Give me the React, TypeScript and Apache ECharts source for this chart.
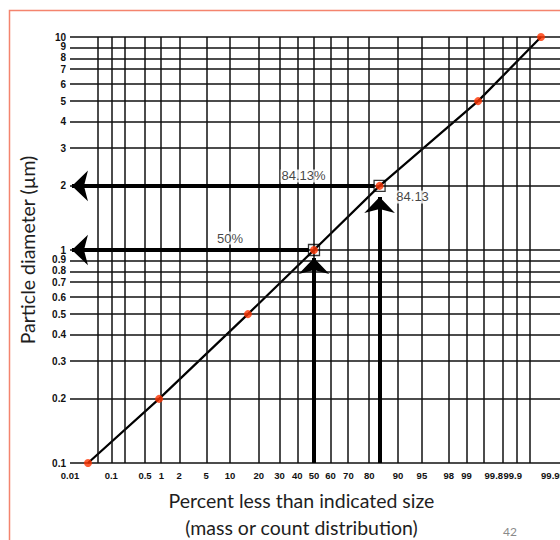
import { useEffect, useRef } from 'react';
import * as echarts from 'echarts';

// ---- data ----
const percentTickLabels = [0.01, 0.1, 0.5, 1, 2, 5, 10, 20, 30, 40, 50, 60, 70, 80, 90, 95, 98, 99, 99.8, 99.9, 99.99];
const percentGridLines = [0.01, 0.05, 0.1, 0.2, 0.5, 1, 2, 5, 10, 20, 30, 40, 50, 60, 70, 80, 90, 95, 98, 99, 99.5, 99.8, 99.9, 99.95];
const diameterTicks = [0.1, 0.2, 0.3, 0.4, 0.5, 0.6, 0.7, 0.8, 0.9, 1, 2, 3, 4, 5, 6, 7, 8, 9, 10];
const pointPercent = [0.0286, 0.91, 15.7, 50, 84.13, 99.38, 99.973];
const pointDiameter = [0.1, 0.2, 0.5, 1, 2, 5, 10];
const markedPercent = [50, 84.13];
const markedDiameter = [1, 2];
const annotationText = ['50%', '84.13%', '84.13'];
const annotationPercent = [50, 84.13, 84.13];
const annotationDiameter = [1, 2, 2];

// inverse standard normal CDF (Acklam)
function qnorm(p: number): number {
  const a = [-3.969683028665376e1, 2.209460984245205e2, -2.759285104469687e2, 1.38357751867269e2, -3.066479806614716e1, 2.506628277459239];
  const b = [-5.447609879822406e1, 1.615858368580409e2, -1.556989798598866e2, 6.680131188771972e1, -1.328068155288572e1];
  const c = [-7.784894002430293e-3, -3.223964580411365e-1, -2.400758277161838, -2.549671348433361, 4.374664141464968, 2.938163982698783];
  const d = [7.784695709041462e-3, 3.224671290700398e-1, 2.445134137142996, 3.754408661907416];
  const pl = 0.02425;
  if (p < pl) {
    const q = Math.sqrt(-2 * Math.log(p));
    return (((((c[0] * q + c[1]) * q + c[2]) * q + c[3]) * q + c[4]) * q + c[5]) / ((((d[0] * q + d[1]) * q + d[2]) * q + d[3]) * q + 1);
  }
  if (p > 1 - pl) {
    const q = Math.sqrt(-2 * Math.log(1 - p));
    return -(((((c[0] * q + c[1]) * q + c[2]) * q + c[3]) * q + c[4]) * q + c[5]) / ((((d[0] * q + d[1]) * q + d[2]) * q + d[3]) * q + 1);
  }
  const q = p - 0.5;
  const r = q * q;
  return ((((((a[0] * r + a[1]) * r + a[2]) * r + a[3]) * r + a[4]) * r + a[5]) * q) / (((((b[0] * r + b[1]) * r + b[2]) * r + b[3]) * r + b[4]) * r + 1);
}
const zp = (pct: number) => qnorm(pct / 100);
const lg = (v: number) => Math.log10(v);

function nearestIndex(list: number[], v: number) {
  let best = 0;
  let bd = Infinity;
  list.forEach((x, i) => {
    const dd = Math.abs(x - v);
    if (dd < bd) { bd = dd; best = i; }
  });
  return best;
}

export default function App() {
  const ref = useRef<HTMLDivElement>(null);
  useEffect(() => {
    if (!ref.current) return;
    const chart = echarts.init(ref.current, undefined, { renderer: 'svg' });
    const xTickZ = percentTickLabels.map(zp);
    const yTickL = diameterTicks.map(lg);
    const topIdx = diameterTicks.length - 1;
    const yMainL = yTickL.slice(0, topIdx);
    const yTopL = yTickL.slice(topIdx);
    const xMin = zp(0.01);
    const xMax = 3.826;
    const labelFont = 'Liberation Sans, Arial, sans-serif';
    const richBase = { fontSize: 9.5, fontFamily: labelFont, fontWeight: 'bold' as const, color: '#111' };

    const gridLineData: any[] = [
      ...percentGridLines.map((p) => ({ xAxis: zp(p) })),
      ...diameterTicks.map((d) => ({ yAxis: lg(d) })),
    ];

    const head = { symbolSize: [23, 16] };
    const arrowData: any[] = [
      [{ coord: [zp(50) - 0.08, lg(1)] }, { coord: [-3.689, lg(1)], ...head }],
      [{ coord: [zp(84.13) - 0.08, lg(2)] }, { coord: [-3.689, lg(2)], ...head }],
      [{ coord: [zp(50), lg(0.1)] }, { coord: [zp(50), -0.0376], ...head }],
      [{ coord: [zp(84.13), lg(0.1)] }, { coord: [zp(84.13), 0.2494], ...head }],
    ];
    const annOffsets = [[-84, -12], [-76, -10], [33, 11]];

    const yLabelBase = {
      margin: 4,
      fontSize: 10,
      fontWeight: 'bold',
      fontFamily: labelFont,
      color: '#111',
      hideOverlap: false,
      showMinLabel: true,
      showMaxLabel: true,
      formatter: (v: number) => String(diameterTicks[nearestIndex(yTickL, v)]),
    };

    chart.setOption({
      animation: false,
      backgroundColor: '#fff',
      grid: { left: 70, top: 37, right: 35, bottom: 77, outerBoundsMode: 'none', containLabel: false },
      xAxis: {
        type: 'value',
        min: xMin,
        max: xMax,
        axisLine: { show: false },
        axisTick: { show: false },
        splitLine: { show: false },
        axisLabel: {
          customValues: xTickZ,
          margin: 7,
          fontSize: 9.5,
          fontWeight: 'bold',
          fontFamily: labelFont,
          color: '#111',
          hideOverlap: false,
          showMinLabel: true,
          showMaxLabel: true,
          formatter: (v: number) => {
            const i = nearestIndex(xTickZ, v);
            const t = String(percentTickLabels[i]);
            if (t === '99.8') return '{s8|' + t + '}';
            if (t === '99.9') return '{s9|' + t + '}';
            if (t === '99.99') return '{s99|' + t + '}';
            return t;
          },
          rich: {
            s8: { ...richBase, padding: [0, 18, 0, 0] },
            s9: { ...richBase, padding: [0, 8, 0, 0] },
            s99: { ...richBase, padding: [0, 10, 0, 0] },
          },
        },
        name: 'Percent less than indicated size\n(mass or count distribution)',
        nameLocation: 'middle',
        nameGap: 24,
        nameTextStyle: { fontSize: 19.5, lineHeight: 27, fontFamily: 'Lato, sans-serif', color: '#1e1e1e', padding: [0, 32, 0, 0] },
      },
      yAxis: [
        {
          type: 'value',
          min: -1,
          max: 1,
          position: 'left',
          axisLine: { show: false },
          axisTick: { show: false },
          splitLine: { show: false },
          axisLabel: { ...yLabelBase, customValues: yMainL },
          name: 'Particle diameter (µm)',
          nameLocation: 'middle',
          nameGap: 33,
          nameTextStyle: { fontSize: 19.5, fontFamily: 'Lato, sans-serif', color: '#1e1e1e' },
        },
        {
          type: 'value',
          min: -1,
          max: 1,
          position: 'left',
          offset: 0,
          axisLine: { show: false },
          axisTick: { show: false },
          splitLine: { show: false },
          axisLabel: { ...yLabelBase, customValues: yTopL },
        },
      ],
      series: [
        {
          name: 'grid',
          type: 'line',
          data: [],
          silent: true,
          z: 1,
          markLine: {
            silent: true,
            symbol: 'none',
            animation: false,
            label: { show: false },
            lineStyle: { color: '#111', width: 1.5, type: 'solid' },
            emphasis: { disabled: true },
            data: gridLineData,
          },
        },
        {
          name: 'fit',
          type: 'line',
          data: pointPercent.map((p, i) => [zp(p), lg(pointDiameter[i])]),
          showSymbol: false,
          symbol: 'none',
          silent: true,
          z: 3,
          lineStyle: { color: '#000', width: 2.2 },
        },
        {
          name: 'arrows',
          type: 'line',
          data: [],
          silent: true,
          z: 4,
          markLine: {
            silent: true,
            symbol: ['none', 'arrow'],
            symbolSize: 18,
            animation: false,
            label: { show: false },
            itemStyle: { color: '#000' },
            lineStyle: { color: '#000', width: 4, type: 'solid' },
            emphasis: { disabled: true },
            data: arrowData,
          },
        },
        {
          name: 'marked',
          type: 'scatter',
          symbol: 'rect',
          symbolSize: 11,
          silent: true,
          z: 5,
          itemStyle: { color: 'rgba(255,255,255,0)', borderColor: '#000', borderWidth: 1.3 },
          data: markedPercent.map((p, i) => [zp(p), lg(markedDiameter[i])]),
        },
        {
          name: 'points',
          type: 'scatter',
          symbol: 'circle',
          symbolSize: 8,
          silent: true,
          z: 6,
          itemStyle: { color: '#ff3300' },
          data: pointPercent.map((p, i) => [zp(p), lg(pointDiameter[i])]),
        },
        {
          name: 'annotations',
          type: 'scatter',
          symbolSize: 1,
          silent: true,
          z: 7,
          itemStyle: { color: 'rgba(0,0,0,0)' },
          data: annotationText.map((t, i) => ({
            name: t,
            value: [zp(annotationPercent[i]), lg(annotationDiameter[i])],
            label: { offset: annOffsets[i] },
          })),
          label: {
            show: true,
            position: 'inside',
            formatter: (p: any) => p.name,
            fontSize: 13,
            fontFamily: labelFont,
            color: '#111',
            backgroundColor: '#fff',
            padding: [0, 1],
          },
        },
      ],
      graphic: [
        {
          type: 'rect',
          silent: true,
          shape: { x: 9.5, y: 10.5, width: 700, height: 700 },
          style: { fill: 'none', stroke: '#f4846e', lineWidth: 1.5 },
          z: 10,
        },
        {
          type: 'text',
          silent: true,
          x: 510,
          y: 531,
          style: { text: '42', fill: '#8a8a8a', fontSize: 12, fontFamily: 'Lato, sans-serif', align: 'center', verticalAlign: 'middle' },
        },
      ],
    });
    return () => chart.dispose();
  }, []);

  return (
    <div style={{ position: 'absolute', left: 0, top: 0, width: 560, height: 540, overflow: 'hidden', background: '#fff' }}>
      <div ref={ref} style={{ width: 600, height: 540 }} />
    </div>
  );
}
